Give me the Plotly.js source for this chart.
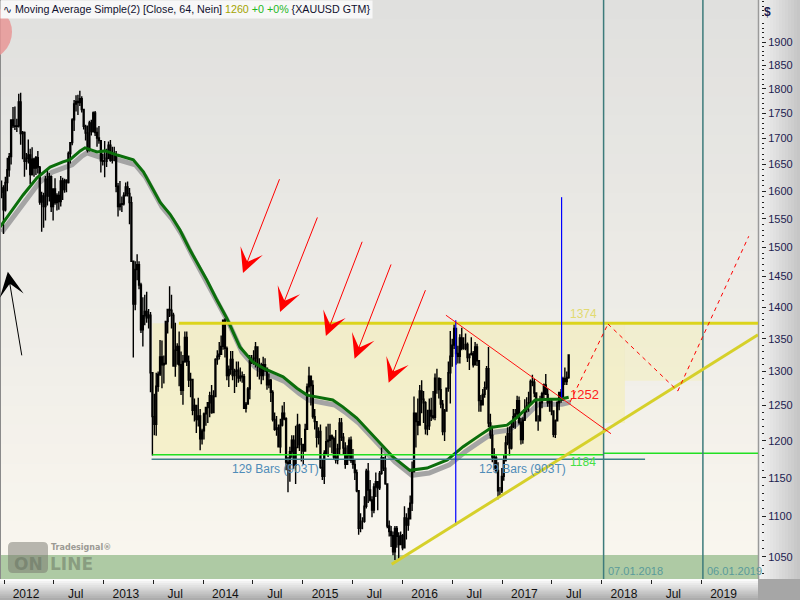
<!DOCTYPE html>
<html><head><meta charset="utf-8">
<script src="https://cdn.plot.ly/plotly-3.0.1.min.js"></script>
<style>html,body{margin:0;padding:0;background:#fff}#chart{width:800px;height:600px}</style>
</head><body><div id="chart"></div>
<script>
// ---------- DATA (weekly candles, Friday dates, [open, high, low, close]) ----------
const firstWeek = '2011-12-16';
const w2011 = [[1713,1716,1562,1598],[1598,1620,1587,1606],[1606,1611,1523,1566]];
const w2012 = [[1566,1627,1563,1616],[1616,1663,1600,1640],[1640,1672,1627,1665],[1665,1738,1650,1737],
[1737,1763,1721,1725],[1725,1764,1717,1724],[1724,1739,1713,1725],[1725,1790,1722,1773],
[1773,1792,1688,1710],[1710,1715,1660,1712],[1712,1714,1627,1656],[1656,1672,1640,1662],[1662,1698,1652,1668],
[1668,1680,1613,1631],[1631,1683,1629,1660],[1660,1663,1627,1643],[1643,1666,1630,1663],
[1663,1676,1633,1645],[1645,1647,1575,1580],[1580,1599,1527,1591],[1591,1597,1534,1572],
[1572,1628,1547,1622],[1622,1641,1574,1591],[1591,1634,1581,1627],[1627,1629,1562,1572],[1572,1605,1547,1604],
[1604,1624,1575,1579],[1579,1596,1565,1592],[1592,1600,1566,1581],[1581,1628,1572,1619],
[1619,1625,1584,1603],[1603,1623,1597,1620],[1620,1622,1598,1616],[1616,1675,1614,1671],[1671,1693,1652,1692],
[1692,1740,1687,1737],[1737,1777,1715,1769],[1769,1787,1754,1774],[1774,1788,1747,1772],
[1772,1796,1765,1780],[1780,1785,1752,1758],[1758,1758,1718,1724],[1724,1727,1696,1711],
[1711,1726,1673,1677],[1677,1735,1675,1731],[1731,1737,1706,1714],[1714,1754,1712,1751],[1751,1755,1705,1712],
[1712,1722,1684,1701],[1701,1725,1690,1696],[1696,1697,1635,1657],[1657,1671,1648,1656]];
const w2013 = [[1656,1695,1626,1656],[1656,1680,1645,1662],[1662,1694,1660,1687],[1687,1697,1655,1658],
[1658,1684,1652,1667],[1667,1684,1656,1667],[1667,1676,1598,1609],[1609,1615,1554,1572],
[1572,1619,1565,1576],[1576,1590,1562,1577],[1577,1598,1574,1592],[1592,1616,1590,1608],[1608,1618,1590,1596],
[1596,1606,1540,1579],[1579,1590,1476,1476],[1476,1476,1321,1405],[1405,1476,1395,1462],
[1462,1488,1444,1470],[1470,1476,1429,1436],[1436,1440,1359,1364],[1364,1416,1338,1386],[1386,1420,1371,1393],
[1393,1425,1375,1383],[1383,1397,1366,1387],[1387,1392,1269,1298],[1298,1298,1180,1234],
[1234,1267,1208,1223],[1223,1298,1207,1278],[1278,1300,1270,1296],[1296,1348,1293,1322],
[1322,1347,1275,1310],[1310,1324,1282,1312],[1312,1378,1310,1377],[1377,1397,1358,1396],[1396,1434,1384,1395],
[1395,1420,1366,1387],[1387,1391,1308,1308],[1308,1375,1292,1332],[1332,1343,1310,1338],
[1338,1361,1278,1310],[1310,1330,1265,1272],[1272,1325,1251,1315],[1315,1361,1313,1352],
[1352,1361,1308,1315],[1315,1324,1277,1287],[1287,1298,1262,1288],[1288,1289,1236,1243],[1243,1260,1227,1250],
[1250,1251,1211,1230],[1230,1261,1220,1235],[1235,1245,1187,1203],[1203,1217,1195,1214]];
const w2014 = [[1214,1240,1202,1238],[1238,1248,1221,1247],[1247,1255,1225,1254],[1254,1270,1233,1264],[1264,1280,1238,1240],
[1240,1272,1240,1263],[1263,1320,1262,1318],[1318,1332,1310,1323],[1323,1345,1318,1326],
[1326,1355,1325,1338],[1338,1380,1333,1379],[1379,1382,1321,1335],[1335,1338,1287,1294],
[1294,1309,1277,1303],[1303,1331,1295,1318],[1318,1331,1287,1294],[1294,1304,1268,1300],
[1300,1315,1277,1302],[1302,1315,1283,1290],[1290,1306,1285,1293],[1293,1300,1283,1292],[1292,1296,1246,1246],
[1246,1255,1240,1252],[1252,1277,1252,1274],[1274,1325,1259,1316],[1316,1325,1311,1316],
[1316,1332,1310,1320],[1320,1345,1306,1337],[1337,1338,1292,1310],[1310,1320,1288,1307],
[1307,1313,1281,1294],[1294,1322,1287,1310],[1310,1320,1299,1305],[1305,1305,1273,1280],[1280,1297,1275,1287],
[1287,1289,1255,1269],[1269,1272,1227,1230],[1230,1240,1214,1216],[1216,1235,1207,1218],
[1218,1223,1191,1192],[1192,1231,1183,1222],[1222,1250,1220,1239],[1239,1255,1229,1231],[1231,1233,1160,1171],
[1171,1178,1131,1169],[1169,1192,1145,1185],[1185,1208,1177,1201],[1201,1208,1162,1167],
[1167,1221,1142,1191],[1191,1238,1190,1222],[1222,1224,1186,1195],[1195,1204,1172,1195]];
const w2015 = [[1195,1196,1167,1186],[1186,1224,1185,1216],[1216,1282,1215,1277],[1277,1307,1270,1293],[1293,1294,1250,1279],
[1279,1287,1231,1234],[1234,1245,1216,1227],[1227,1228,1191,1205],[1205,1219,1195,1213],
[1213,1223,1162,1164],[1164,1174,1147,1152],[1152,1187,1142,1183],[1183,1220,1181,1199],
[1199,1224,1178,1201],[1201,1224,1191,1207],[1207,1209,1183,1203],[1203,1206,1175,1178],
[1178,1215,1169,1174],[1174,1196,1168,1189],[1189,1232,1182,1225],[1225,1232,1200,1205],[1205,1211,1182,1190],
[1190,1198,1162,1168],[1168,1194,1167,1180],[1180,1205,1173,1201],[1201,1206,1170,1173],
[1173,1189,1162,1168],[1168,1175,1147,1157],[1157,1161,1131,1133],[1133,1134,1077,1085],[1085,1104,1080,1094],
[1094,1099,1084,1094],[1094,1126,1092,1113],[1113,1162,1110,1159],[1159,1170,1117,1134],
[1134,1147,1119,1121],[1121,1126,1099,1108],[1108,1143,1104,1138],[1138,1157,1125,1145],
[1145,1145,1108,1137],[1137,1159,1134,1156],[1156,1191,1154,1177],[1177,1178,1159,1163],[1163,1180,1141,1142],
[1142,1143,1085,1088],[1088,1095,1075,1081],[1081,1088,1062,1076],[1076,1081,1052,1056],
[1056,1088,1046,1085],[1085,1088,1061,1075],[1075,1080,1046,1065],[1065,1081,1065,1076]];
const w2016 = [[1076,1078,1058,1061],[1061,1113,1061,1098],[1098,1104,1071,1089],[1089,1111,1082,1097],[1097,1127,1096,1117],
[1117,1172,1107,1158],[1158,1263,1157,1239],[1239,1240,1191,1227],[1227,1260,1208,1222],
[1222,1280,1222,1271],[1271,1287,1239,1259],[1259,1271,1225,1254],[1254,1256,1209,1217],
[1217,1244,1208,1221],[1221,1260,1215,1243],[1243,1261,1228,1235],[1235,1271,1230,1233],[1233,1297,1229,1290],
[1290,1304,1267,1290],[1290,1291,1260,1273],[1273,1290,1246,1252],[1252,1258,1208,1213],
[1213,1245,1200,1242],[1242,1276,1241,1275],[1275,1315,1270,1298],[1298,1362,1253,1323],
[1323,1350,1307,1340],[1340,1375,1334,1366],[1366,1367,1310,1327],[1327,1339,1312,1323],[1323,1357,1312,1351],
[1351,1367,1332,1335],[1335,1352,1333,1335],[1335,1358,1332,1341],[1341,1344,1314,1321],
[1321,1327,1302,1326],[1326,1352,1324,1327],[1327,1331,1306,1310],[1310,1345,1310,1337],[1337,1342,1308,1316],
[1316,1317,1241,1257],[1257,1265,1241,1251],[1251,1274,1250,1266],[1266,1285,1261,1276],
[1276,1308,1273,1304],[1304,1337,1219,1225],[1225,1238,1203,1208],[1208,1221,1171,1178],
[1178,1190,1160,1177],[1177,1180,1156,1160],[1160,1171,1122,1133],[1133,1138,1124,1133],[1133,1163,1130,1152]];
const w2017 = [[1152,1182,1146,1173],[1173,1207,1172,1197],[1197,1219,1194,1210],[1210,1220,1180,1190],
[1190,1226,1188,1220],[1220,1245,1218,1234],[1234,1245,1217,1238],[1238,1264,1233,1257],
[1257,1263,1223,1226],[1226,1232,1195,1202],[1202,1233,1196,1229],[1229,1259,1228,1244],[1244,1262,1240,1249],
[1249,1270,1241,1254],[1254,1288,1252,1285],[1285,1295,1278,1284],[1284,1289,1262,1268],
[1268,1268,1227,1228],[1228,1236,1214,1228],[1228,1264,1227,1254],[1254,1270,1246,1267],
[1267,1282,1260,1280],[1280,1296,1265,1266],[1266,1275,1248,1254],[1254,1260,1241,1256],[1256,1259,1236,1242],
[1242,1243,1205,1209],[1209,1230,1204,1228],[1228,1256,1227,1254],[1254,1270,1243,1269],
[1269,1274,1254,1258],[1258,1292,1257,1289],[1289,1306,1280,1285],[1285,1300,1280,1291],
[1291,1326,1289,1325]];

// Moving Average Simple (64)
const maDates = ['2011-12-17','2012-01-23','2012-03-11','2012-05-01','2012-06-18','2012-08-04','2012-08-30','2012-10-06','2012-10-24','2012-12-07',
'2013-01-06','2013-02-19','2013-04-01','2013-04-19','2013-05-26','2013-07-01','2013-07-26','2013-09-01','2013-10-07','2013-11-13',
'2013-12-19','2014-01-14','2014-02-20','2014-03-28','2014-05-15','2014-07-02','2014-08-08','2014-09-13','2014-10-20','2014-12-10',
'2015-01-16','2015-04-20','2015-05-27','2015-07-17','2015-10-10','2015-11-27','2016-01-28','2016-03-31','2016-06-13','2016-08-10',
'2016-10-11','2016-11-24','2017-01-18','2017-02-24','2017-04-13','2017-05-01','2017-06-25','2017-07-31','2017-09-01'];
const maValues = [1535,1560,1593,1625,1645,1655,1659,1676,1682,1674,
1676,1668,1662,1659,1636,1602,1580,1558,1530,1495,
1465,1444,1411,1382,1337,1314,1305,1298,1292,1275,
1265,1258,1248,1232,1197,1178,1160,1163,1174,1192,
1208,1219,1222,1233,1251,1258,1259,1259,1262];

// axis ticks
const xTickDates = ['2012-01-01','2012-07-01','2013-01-01','2013-07-01','2014-01-01','2014-07-01','2015-01-01','2015-07-01',
'2016-01-01','2016-07-01','2017-01-01','2017-07-01','2018-01-01','2018-07-01','2019-01-01'];
const xTickText = ['2012','Jul','2013','Jul','2014','Jul','2015','Jul','2016','Jul','2017','Jul','2018','Jul','2019'];
const yTickValues = [1050,1100,1150,1200,1250,1300,1350,1400,1450,1500,1550,1600,1650,1700,1750,1800,1850,1900];

// drawing objects
const resistance = 1374, support = 1181, support2 = 1183, measureLevel = 1175;
const zoneStart = '2013-06-28', resistStart = '2013-10-03', marker2018 = '2018-01-07', marker2019 = '2019-01-06';
const zone2End = '2018-03-26', zone2Low = 1225, zone3End = '2019-01-03', zone3Low = 1286;
const measureStart = '2013-06-25', measureEnd = '2018-06-08';
const barsLabelDates = ['2014-09-22','2017-03-14'];
const barsLabelText = '129 Bars (903T)';
const blueLine1 = {date:'2016-07-14', top:1379, bottom:1089};
const blueLine2 = {date:'2017-08-06', top:1589, bottom:1261};
const upTrend = {d0:'2015-11-22', v0:1041, d1:'2019-07-27', v1:1356};
const downTrend = {d0:'2016-06-08', v0:1387, d1:'2018-02-03', v1:1210};
const projDates = ['2017-09-06','2018-01-23','2018-10-06','2019-06-23'];
const projValues = [1255,1373,1271,1519];
const arrowTipDates = ['2014-05-26','2014-10-09','2015-03-26','2015-07-09','2015-11-11'];
const arrowTipValues = [1456,1392,1354,1319,1283];
const arrowTailDates = ['2014-10-09','2015-02-25','2015-08-08','2015-11-22','2016-03-27'];
const arrowTailValues = [1625,1555,1512,1473,1430];
const blackArrow = {tip:'2012-01-15', tipV:1458, tail:'2012-03-07', tailV:1322};
const labelDate = '2017-08-29';

// ---------- BUILD ----------
const rows = [].concat(w2011, w2012, w2013, w2014, w2015, w2016, w2017);
const t0 = Date.parse(firstWeek + 'T00:00:00Z');
const dates = rows.map((r, i) => new Date(t0 + i * 7 * 86400000).toISOString().slice(0, 10));
const open = rows.map(r => r[0]), high = rows.map(r => r[1]), low = rows.map(r => r[2]), close = rows.map(r => r[3]);

const W = 800, H = 600, PW = 758 / W, PB = 21 / H;
const X = px => px / W, Y = py => 1 - py / H;
const toStr = ms => new Date(ms).toISOString().replace('T', ' ').replace('Z', '');
const xr0 = Date.parse('2011-12-17T07:00:00Z'), xr1 = Date.parse('2019-07-27T00:00:00Z');
const yr0 = Math.log10(1023.5), yr1 = Math.log10(1994.2);
const sx = 2 / 758 * (xr1 - xr0), sy = 5 / 579 * (yr1 - yr0);
const L = Math.log10;

const shapes = [];
function hexLerp(a, b, t) {
  const pa = [1,3,5].map(i => parseInt(a.substr(i,2),16)), pb = [1,3,5].map(i => parseInt(b.substr(i,2),16));
  return 'rgb(' + pa.map((v, k) => Math.round(v + (pb[k] - v) * t)).join(',') + ')';
}
// plot background gradient
const NB = 30;
for (let i = 0; i < NB; i++) {
  const yTop = i * 579 / NB, yBot = (i + 1) * 579 / NB + 0.5;
  shapes.push({type:'rect', xref:'paper', yref:'paper', x0:0, x1:PW, y0:Y(yBot), y1:Y(yTop), layer:'below',
    line:{width:0}, fillcolor:hexLerp('#e0e0de', '#faf7ef', i / (NB - 1))});
}
// right axis panel gradient
for (let i = 0; i < 14; i++) {
  const xa = 758 + i * 3, xb = xa + 3.5;
  shapes.push({type:'rect', xref:'paper', yref:'paper', x0:X(xa), x1:X(Math.min(xb, 800)), y0:PB, y1:1, layer:'below',
    line:{width:0}, fillcolor:hexLerp('#f2f2f2', '#c6c6c6', i / 13)});
}
// bottom axis strip gradient
for (let i = 0; i < 10; i++) {
  const ya = 579 + i * 2.1, yb = ya + 2.6;
  shapes.push({type:'rect', xref:'paper', yref:'paper', x0:0, x1:PW, y0:Y(Math.min(yb, 600)), y1:Y(ya), layer:'below',
    line:{width:0}, fillcolor:hexLerp('#fbfbfb', '#acacac', i / 9)});
}
shapes.push({type:'rect', xref:'paper', yref:'paper', x0:PW, x1:1, y0:0, y1:PB, layer:'below', line:{width:0}, fillcolor:'#a6a6a6'});
// green band at bottom of plot
shapes.push({type:'rect', xref:'x2 domain', yref:'y2 domain', x0:0, x1:1, y0:0, y1:24 / 579, layer:'below', line:{width:0}, fillcolor:'#aecaa4'});
// consolidation zones
const zoneFill = 'rgba(246,238,160,0.42)';
shapes.push({type:'rect', xref:'x2', yref:'y2', x0:zoneStart, x1:marker2018, y0:1180, y1:resistance, layer:'below', line:{width:0}, fillcolor:zoneFill});
shapes.push({type:'rect', xref:'x2', yref:'y2', x0:marker2018, x1:zone2End, y0:zone2Low, y1:resistance, layer:'below', line:{width:0}, fillcolor:zoneFill});
shapes.push({type:'rect', xref:'x2', yref:'y2', x0:zone2End, x1:zone3End, y0:zone3Low, y1:resistance, layer:'below', line:{width:0}, fillcolor:'rgba(246,238,160,0.32)'});
// plot borders
shapes.push({type:'line', xref:'paper', yref:'paper', x0:X(0.5), x1:X(0.5), y0:PB, y1:1, line:{color:'#8a8a8a', width:1}});
shapes.push({type:'line', xref:'paper', yref:'paper', x0:X(758.5), x1:X(758.5), y0:PB, y1:1, line:{color:'#9a9a9a', width:1.5}});
// horizontal levels
shapes.push({type:'line', xref:'x2', yref:'y2', x0:resistStart, x1:toStr(xr1), y0:resistance, y1:resistance, line:{color:'#dcd41c', width:3}});
shapes.push({type:'line', xref:'x2', yref:'y2', x0:zoneStart, x1:marker2018, y0:support, y1:support, line:{color:'#22e022', width:1.5}});
shapes.push({type:'line', xref:'x2', yref:'y2', x0:marker2018, x1:toStr(xr1), y0:support2, y1:support2, line:{color:'#22e022', width:1.5}});
shapes.push({type:'line', xref:'x2', yref:'y2', x0:measureStart, x1:measureEnd, y0:measureLevel, y1:measureLevel, line:{color:'#3e7f86', width:1.5}});
// blue verticals
[blueLine1, blueLine2].forEach(b => shapes.push({type:'line', xref:'x2', yref:'y2', x0:b.date, x1:b.date, y0:b.bottom, y1:b.top, line:{color:'#0000ff', width:1.2}}));
// date markers
[marker2018, marker2019].forEach(d => shapes.push({type:'line', xref:'x2', yref:'paper', x0:d, x1:d, y0:PB, y1:1, line:{color:'#3d7b7b', width:1.5}}));
// trend lines
shapes.push({type:'line', xref:'x2', yref:'y2', x0:upTrend.d0, x1:upTrend.d1, y0:upTrend.v0, y1:upTrend.v1, line:{color:'#d6d02a', width:3}});
shapes.push({type:'line', xref:'x2', yref:'y2', x0:downTrend.d0, x1:downTrend.d1, y0:downTrend.v0, y1:downTrend.v1, line:{color:'#ff1010', width:1}});
for (let i = 0; i < projDates.length - 1; i++) {
  shapes.push({type:'line', xref:'x2', yref:'y2', x0:projDates[i], x1:projDates[i+1], y0:projValues[i], y1:projValues[i+1], line:{color:'#ff0000', width:1, dash:'4px,4px'}});
}
// logo rounded rect
(function(){
  const x0 = 8, x1 = 48, y0 = 542, y1 = 573, r = 5;
  const p = (x, y) => X(x) + ',' + Y(y);
  const path = 'M' + p(x0 + r, y0) + ' L' + p(x1 - r, y0) + ' Q' + p(x1, y0) + ' ' + p(x1, y0 + r) +
    ' L' + p(x1, y1 - r) + ' Q' + p(x1, y1) + ' ' + p(x1 - r, y1) + ' L' + p(x0 + r, y1) + ' Q' + p(x0, y1) + ' ' + p(x0, y1 - r) +
    ' L' + p(x0, y0 + r) + ' Q' + p(x0, y0) + ' ' + p(x0 + r, y0) + ' Z';
  shapes.push({type:'path', xref:'paper', yref:'paper', path:path, fillcolor:'rgba(118,116,108,0.5)', line:{width:0}});
})();
// pink marker at top-left
shapes.push({type:'circle', xref:'paper', yref:'paper', x0:X(-44), x1:X(12), y0:Y(60), y1:Y(4), fillcolor:'rgba(232,150,150,0.85)', line:{width:0}});

// ---------- ANNOTATIONS ----------
const font = 'Liberation Sans, Arial, sans-serif';
const ann = [];
ann.push({xref:'paper', yref:'paper', x:0, y:1, xanchor:'left', yanchor:'top', showarrow:false, bgcolor:'#f7f7f7', borderpad:2,
  font:{family:font, size:10.7, color:'#10102e'},
  text:'<span style="font-family:DejaVu Sans">∿</span> Moving Average Simple(2) [Close, 64, Nein] <span style="color:#a4a400">1260</span> <span style="color:#1fb81f">+0 +0%</span> {XAUUSD GTM}'});
ann.push({xref:'paper', yref:'paper', x:X(762), y:Y(3), xanchor:'left', yanchor:'top', showarrow:false, text:'<b>$</b>', font:{family:font, size:12, color:'#1c1c50'}});
for (let i = 0; i < arrowTipDates.length; i++) {
  ann.push({xref:'x2', yref:'y2', axref:'x2', ayref:'y2', x:arrowTipDates[i], y:L(arrowTipValues[i]), ax:arrowTailDates[i], ay:L(arrowTailValues[i]),
    showarrow:true, arrowhead:3, arrowsize:4, arrowwidth:1, arrowcolor:'#ff0000', standoff:0, text:''});
}
ann.push({xref:'x2', yref:'y2', axref:'x2', ayref:'y2', x:blackArrow.tip, y:L(blackArrow.tipV), ax:blackArrow.tail, ay:L(blackArrow.tailV),
  showarrow:true, arrowhead:3, arrowsize:4, arrowwidth:1, arrowcolor:'#000000', standoff:0, text:''});
ann.push({xref:'x2', yref:'y2', x:labelDate, y:L(resistance), xanchor:'left', yanchor:'bottom', yshift:0, showarrow:false, text:String(resistance), font:{family:font, size:12, color:'#e2da70'}});
ann.push({xref:'x2', yref:'y2', x:labelDate, y:L(1252), xanchor:'left', yanchor:'bottom', showarrow:false, text:'1252', font:{family:font, size:13, color:'#ff2020'}});
ann.push({xref:'x2', yref:'y2', x:labelDate, y:L(1184), xanchor:'left', yanchor:'top', showarrow:false, text:'1184', font:{family:font, size:12, color:'#44e044'}});
barsLabelDates.forEach(d => ann.push({xref:'x2', yref:'y2', x:d, y:L(measureLevel), xanchor:'center', yanchor:'top', yshift:-1, showarrow:false, text:barsLabelText, font:{family:font, size:12, color:'#4f8cb8'}}));
ann.push({xref:'x2', yref:'paper', x:marker2018, y:Y(571), xanchor:'left', yanchor:'middle', xshift:2, showarrow:false, text:'07.01.2018', font:{family:font, size:11, color:'#5a9a9a'}});
ann.push({xref:'x2', yref:'paper', x:marker2019, y:Y(571), xanchor:'left', yanchor:'middle', xshift:2, showarrow:false, text:'06.01.2019', font:{family:font, size:11, color:'#5a9a9a'}});
ann.push({xref:'paper', yref:'paper', x:X(50), y:Y(547), xanchor:'left', yanchor:'middle', showarrow:false, borderpad:0, text:'<b>Tradesignal®</b>', font:{family:'DejaVu Sans', size:8, color:'#9c9a94'}});
ann.push({xref:'paper', yref:'paper', x:X(28), y:Y(564), xanchor:'center', yanchor:'middle', showarrow:false, borderpad:0, text:'<b>ON</b>', font:{family:'DejaVu Sans', size:17, color:'rgba(95,105,88,0.45)'}});
ann.push({xref:'paper', yref:'paper', x:X(49), y:Y(564), xanchor:'left', yanchor:'middle', showarrow:false, borderpad:0, text:'<b>LINE</b>', font:{family:'DejaVu Sans', size:17, color:'rgba(100,112,92,0.5)'}});

// ---------- TRACES ----------
const shadow = {type:'scatter', mode:'lines', x:maDates, y:maValues, xaxis:'x', yaxis:'y', line:{color:'#a4a4a4', width:5}, hoverinfo:'skip'};
const candles = {type:'candlestick', x:dates, open:open, high:high, low:low, close:close, xaxis:'x2', yaxis:'y2',
  increasing:{line:{color:'#000000', width:1.4}, fillcolor:'#ffffff'},
  decreasing:{line:{color:'#000000', width:1.4}, fillcolor:'#000000'},
  whiskerwidth:0, hoverinfo:'skip'};
const ma = {type:'scatter', mode:'lines', x:maDates, y:maValues, xaxis:'x2', yaxis:'y2', line:{color:'#0b6e0b', width:3}, hoverinfo:'skip'};

const minorY = [];
for (let v = 1030; v <= 1990; v += 10) if (v % 50 !== 0) minorY.push(v);

const layout = {
  width:W, height:H, margin:{l:0, r:0, t:0, b:0}, paper_bgcolor:'#e4e4e2', plot_bgcolor:'rgba(0,0,0,0)',
  showlegend:false, hovermode:false,
  xaxis:{type:'date', domain:[0, PW], range:[toStr(xr0 - sx), toStr(xr1 - sx)], visible:false, rangeslider:{visible:false}, fixedrange:true},
  yaxis:{type:'log', domain:[PB, 1], range:[yr0 + sy, yr1 + sy], visible:false, fixedrange:true},
  xaxis2:{type:'date', overlaying:'x', anchor:'y2', range:[toStr(xr0), toStr(xr1)], rangeslider:{visible:false},
    tickmode:'array', tickvals:xTickDates, ticktext:xTickText, ticks:'outside', ticklen:4, tickcolor:'#222', tickwidth:1,
    ticklabelshift:22, tickfont:{family:font, size:12, color:'#111'}, showgrid:false, zeroline:false, showline:false, fixedrange:true},
  yaxis2:{type:'log', overlaying:'y', side:'right', anchor:'free', position:761 / W, range:[yr0, yr1],
    tickmode:'array', tickvals:yTickValues, ticktext:yTickValues.map(String), ticks:'outside', ticklen:4, tickcolor:'#222', tickwidth:1,
    minor:{tickmode:'array', tickvals:minorY, ticks:'outside', ticklen:2, tickcolor:'#222', tickwidth:1, showgrid:false},
    tickfont:{family:font, size:11, color:'#1c1c50'}, showgrid:false, zeroline:false, showline:false, fixedrange:true},
  shapes:shapes, annotations:ann
};
Plotly.newPlot('chart', [shadow, candles, ma], layout, {staticPlot:true, displayModeBar:false});
</script>
</body></html>
